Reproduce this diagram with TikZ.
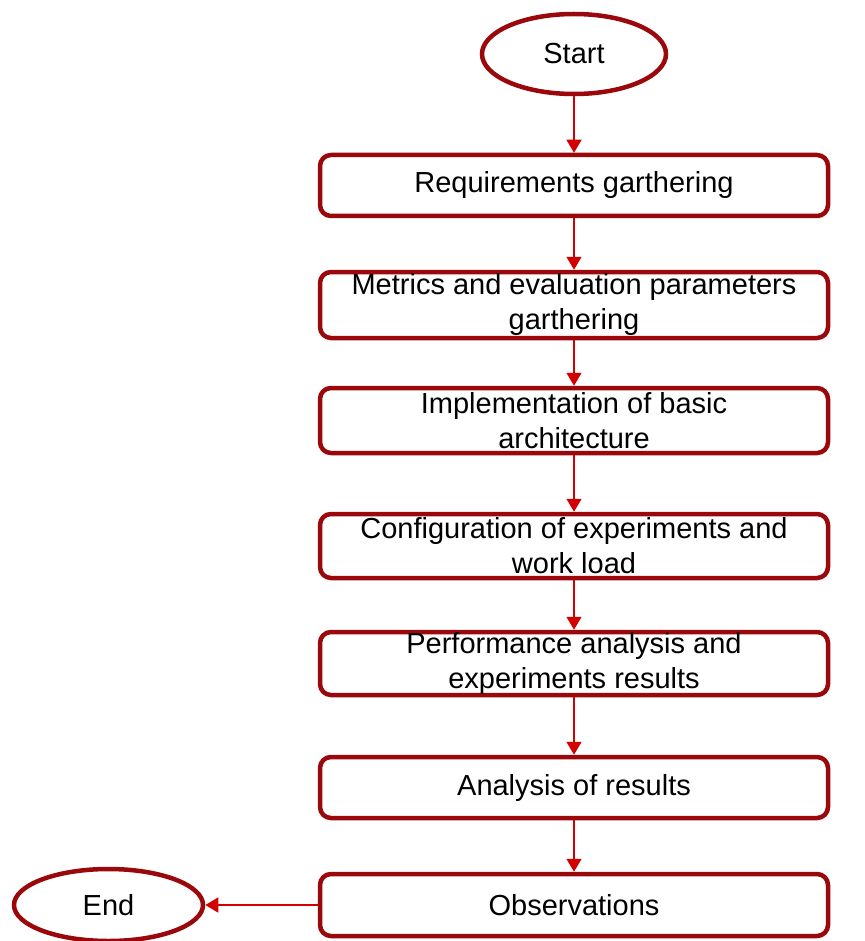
\documentclass[tikz,border=0pt]{standalone}
\usepackage{fontspec}
\setmainfont{Liberation Sans}
\usetikzlibrary{shapes.geometric,arrows.meta}
\definecolor{boxred}{RGB}{155,8,12}
\definecolor{arrred}{RGB}{210,0,0}
\begin{document}
\begin{tikzpicture}[x=1pt,y=-1pt,
  stepbox/.style={draw=boxred, line width=4.5pt, rounded corners=11pt, minimum width=508pt, align=center, inner sep=0pt, font=\fontsize{29}{35}\selectfont},
  term/.style={draw=boxred, line width=4.5pt, ellipse, inner sep=0pt, font=\fontsize{29}{34}\selectfont},
  conn/.style={draw=arrred, line width=1.4pt, -{Triangle[width=15pt,length=13pt]}}]
\useasboundingbox (0,0) rectangle (864,941);
\node[term, minimum width=184pt, minimum height=80pt] (start) at (574,54) {Start};
\node[stepbox, minimum height=61pt] (b1) at (574,185.5) {Requirements garthering};
\node[stepbox, minimum height=66pt] (b2) at (574,305) {Metrics and evaluation parameters\\garthering};
\node[stepbox, minimum height=65pt] (b3) at (574,420.5) {Implementation of basic\\architecture};
\node[stepbox, minimum height=64pt] (b4) at (574,546) {Configuration of experiments and\\work load};
\node[stepbox, minimum height=63pt] (b5) at (574,663.5) {Performance analysis and\\experiments results};
\node[stepbox, minimum height=61pt] (b6) at (574,787.5) {Analysis of results};
\node[stepbox, minimum height=62pt] (b7) at (574,905) {Observations};
\node[term, minimum width=189pt, minimum height=72pt] (end) at (108.5,905) {End};
\draw[conn] (start) -- (b1);
\draw[conn] (b1) -- (b2);
\draw[conn] (b2) -- (b3);
\draw[conn] (b3) -- (b4);
\draw[conn] (b4) -- (b5);
\draw[conn] (b5) -- (b6);
\draw[conn] (b6) -- (b7);
\draw[conn] (b7) -- (end);
\end{tikzpicture}
\end{document}
